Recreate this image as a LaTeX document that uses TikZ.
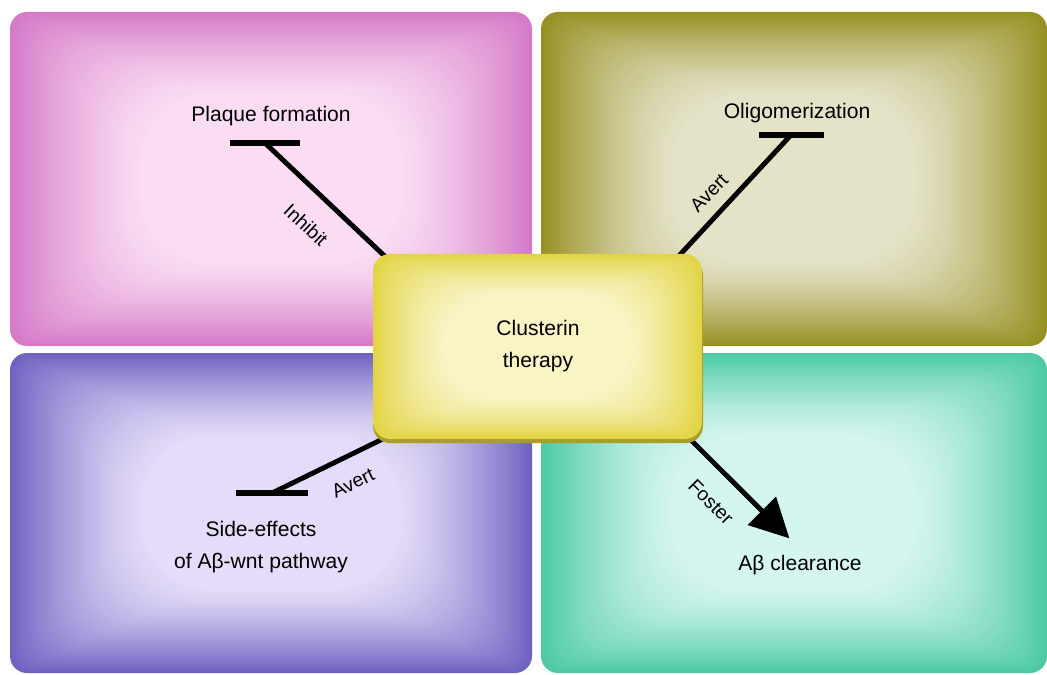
\documentclass[tikz,border=0pt]{standalone}
\usepackage{fontspec}
\setmainfont{Liberation Sans}
\usetikzlibrary{arrows.meta}

\definecolor{pinkout}{HTML}{D57AC7}
\definecolor{pinkin}{HTML}{FADDF3}
\definecolor{oliveout}{HTML}{979023}
\definecolor{olivein}{HTML}{E4E3C8}
\definecolor{purpleout}{HTML}{6F63C2}
\definecolor{purplein}{HTML}{E4DCF8}
\definecolor{tealout}{HTML}{4DCAA5}
\definecolor{tealin}{HTML}{D5F6EE}
\definecolor{yelout}{HTML}{E2D444}
\definecolor{yelin}{HTML}{F8F4C4}
\definecolor{yelshadow}{HTML}{A99D2C}

\newcommand{\glowpanel}[9]{
  \foreach \i in {0,...,45}{
    \pgfmathtruncatemacro{\p}{100*(1-\i/45)^1.3}
    \pgfmathsetmacro{\r}{0.34+#9*\i}
    \fill[rounded corners=\r cm, #5!\p!#6] (#1+\i*#7,#2+\i*#8) rectangle (#3-\i*#7,#4-\i*#8);
  }
}

\tikzset{
  txt/.style = {font=\fontsize{12}{18}\selectfont},
  lbl/.style = {font=\fontsize{11}{13}\selectfont},
  tbar/.style = {fill=black, inner sep=0pt, minimum width=1.4cm, minimum height=0.11cm},
  link/.style = {line width=2.8pt},
  promote/.style = {line width=2.8pt, -{Triangle[length=0.78cm, width=0.78cm]}, shorten >=0.3cm}
}

\begin{document}
\begin{tikzpicture}[x=0.02cm, y=-0.02cm]

\useasboundingbox[fill=white] (0,0) rectangle (1047,675);

% panels
\glowpanel{10}{12}{532}{346}{pinkout}{pinkin}{3}{1.9}{0.026}
\glowpanel{541}{12}{1047}{346}{oliveout}{olivein}{3}{1.9}{0.026}
\glowpanel{10}{353}{532}{673}{purpleout}{purplein}{3}{1.9}{0.026}
\glowpanel{541}{353}{1047}{673}{tealout}{tealin}{3}{1.9}{0.026}

\node[txt] (pf) at (271,116) {Plaque formation};
\node[txt] (ol) at (797,113) {Oligomerization};
\node[txt, align=center] (se) at (261,547) {Side-effects\\of Aβ-wnt pathway};
\node[txt] (ac) at (800,565) {Aβ clearance};

\node[tbar] (pfb) at (265,143) {};
\node[tbar, minimum width=1.3cm] (olb) at (791,135) {};
\node[tbar, minimum width=1.46cm] (seb) at (272,493) {};

\coordinate (c1) at (392,263);
\coordinate (c2) at (676,259);
\coordinate (c3) at (393,434);
\coordinate (c4) at (684,433);

\draw[link] (pfb.center) -- (c1);
\draw[link] (olb.center) -- (c2);
\draw[link] (seb.center) -- (c3);
\draw[promote] (c4) -- (ac.north);

\node[lbl, rotate=-43] (inh) at (306,225) {Inhibit};
\node[lbl, rotate=46] (av1) at (709,193) {Avert};
\node[lbl, rotate=26] (av2) at (353,483) {Avert};
\node[lbl, rotate=-45] (fo) at (711,502) {Foster};

% centre box
\fill[yelshadow, rounded corners=0.34cm] (373,258) rectangle (703,443);
\glowpanel{373}{254}{702}{439}{yelout}{yelin}{1.6}{0.95}{0.017}
\node[txt, align=center] (ct) at (538,346) {Clusterin\\therapy};

\end{tikzpicture}
\end{document}
